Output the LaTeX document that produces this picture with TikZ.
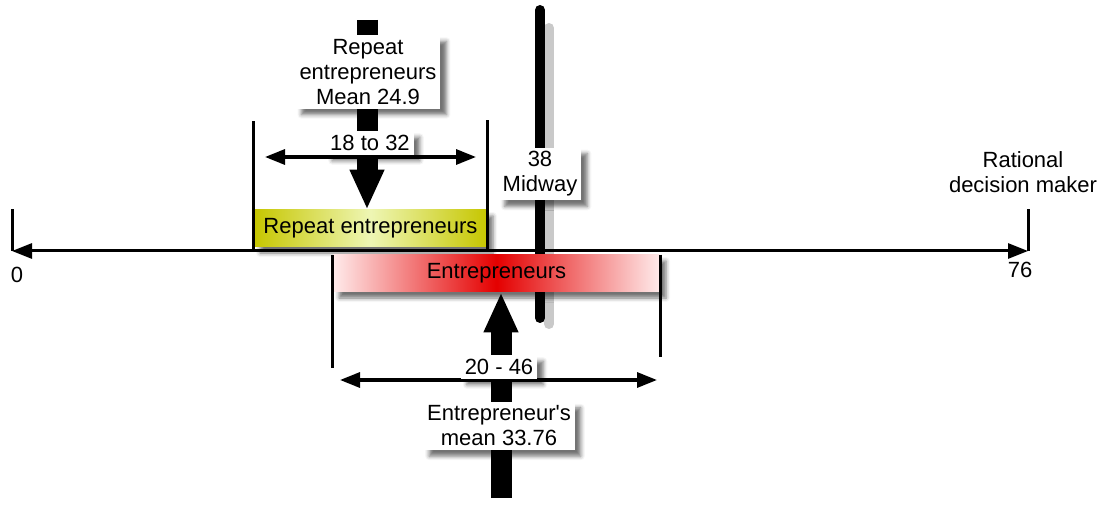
\documentclass[tikz,border=0pt]{standalone}
\usepackage{fontspec}
\setmainfont{Liberation Sans}
\usetikzlibrary{arrows.meta,positioning,calc,shadows.blur}

\definecolor{barred}{RGB}{228,0,0}
\definecolor{barpink}{RGB}{255,235,235}
\definecolor{barolive}{RGB}{198,198,0}
\definecolor{barpale}{RGB}{238,246,180}

\tikzset{
  txt/.style={align=center, inner sep=1pt, font=\fontsize{11}{12.5}\selectfont},
  lbl/.style={txt, fill=white, inner sep=2pt,
    blur shadow={shadow xshift=3pt, shadow yshift=-3pt, shadow blur radius=2pt, shadow opacity=55}},
  bar/.style={txt, minimum height=18.5pt, inner sep=0pt,
    blur shadow={shadow xshift=3pt, shadow yshift=-3pt, shadow blur radius=2pt, shadow opacity=55}},
  axisline/.style={line width=1.5pt, {Triangle[length=10pt,width=7.5pt]}-{Triangle[length=10pt,width=7.5pt]}},
  span/.style={line width=1.6pt, {Triangle[length=10pt,width=7.5pt]}-{Triangle[length=10pt,width=7.5pt]}},
  guide/.style={line width=1.2pt},
  bigarrow/.style={line width=10.5pt, -{Triangle[length=20pt,width=16pt]}},
}

\begin{document}
\begin{tikzpicture}[x=0.5pt,y=-0.5pt]
    \useasboundingbox (0,0) rectangle (1100,508);

    % midway line and its shadow
    \coordinate (mtop) at (540,10);
    \coordinate (mbot) at (540,318);
    \draw[gray!60, line width=5pt, line cap=round, opacity=0.7] ($(mtop)+(9,18)$) -- ($(mbot)+(9,6)$);
    \draw[line width=5pt, line cap=round] (mtop) -- (mbot);

    % main axis
    \coordinate (zero) at (12,251);
    \coordinate (full) at (1028,251);
    \draw[axisline] (zero) -- (full);
    \draw[guide, line width=1.5pt] (zero) -- ++(0,-42);
    \draw[guide, line width=1.5pt] (full) -- ++(0,-42);
    \node[txt] (nzero) at (17,275) {0};
    \node[txt] (nfull) at (1020,270) {76};
    \node[txt] (rational) at (1023,172) {Rational\\decision maker};

    % bars
    \node[bar, minimum width=116.5pt, left color=barolive, right color=barolive, middle color=barpale] (repbar) at (370.5,228.5) {Repeat entrepreneurs};
    \node[bar, minimum width=163.5pt, left color=barpink, right color=barpink, middle color=barred] (entbar) at (496.5,273.5) {Entrepreneurs};

    % range guides
    \draw[guide] (repbar.west |- zero) -- ++(0,-130);
    \draw[guide] (repbar.east |- zero) -- ++(0,-131);
    \draw[guide] (entbar.north west) -- ++(0,113);
    \draw[guide] (entbar.north east) -- ++(0,102);

    % mean arrows
    \coordinate (reptop) at (367,20);
    \draw[bigarrow] (reptop) -- (reptop |- repbar.north);
    \coordinate (entbot) at (501,498);
    \draw[bigarrow] (entbot) -- (entbot |- entbar.south);

    % ranges
    \coordinate (repleft) at (265,157);
    \coordinate (repright) at (476,157);
    \draw[span] (repleft) -- (repright);
    \coordinate (entleft) at (340,380);
    \coordinate (entright) at (657,380);
    \draw[span] (entleft) -- (entright);

    % labels
    \node[lbl] (repmean) at (368,72) {Repeat\\entrepreneurs\\Mean 24.9};
    \node[lbl] (reprange) at (370,143) {18 to 32};
    \node[lbl] (midlbl) at (540,174) {38\\Midway};
    \node[lbl] (entrange) at (499,367) {20 - 46};
    \node[lbl] (entmean) at (499,426) {Entrepreneur\textquotesingle s\\mean 33.76};
\end{tikzpicture}
\end{document}
